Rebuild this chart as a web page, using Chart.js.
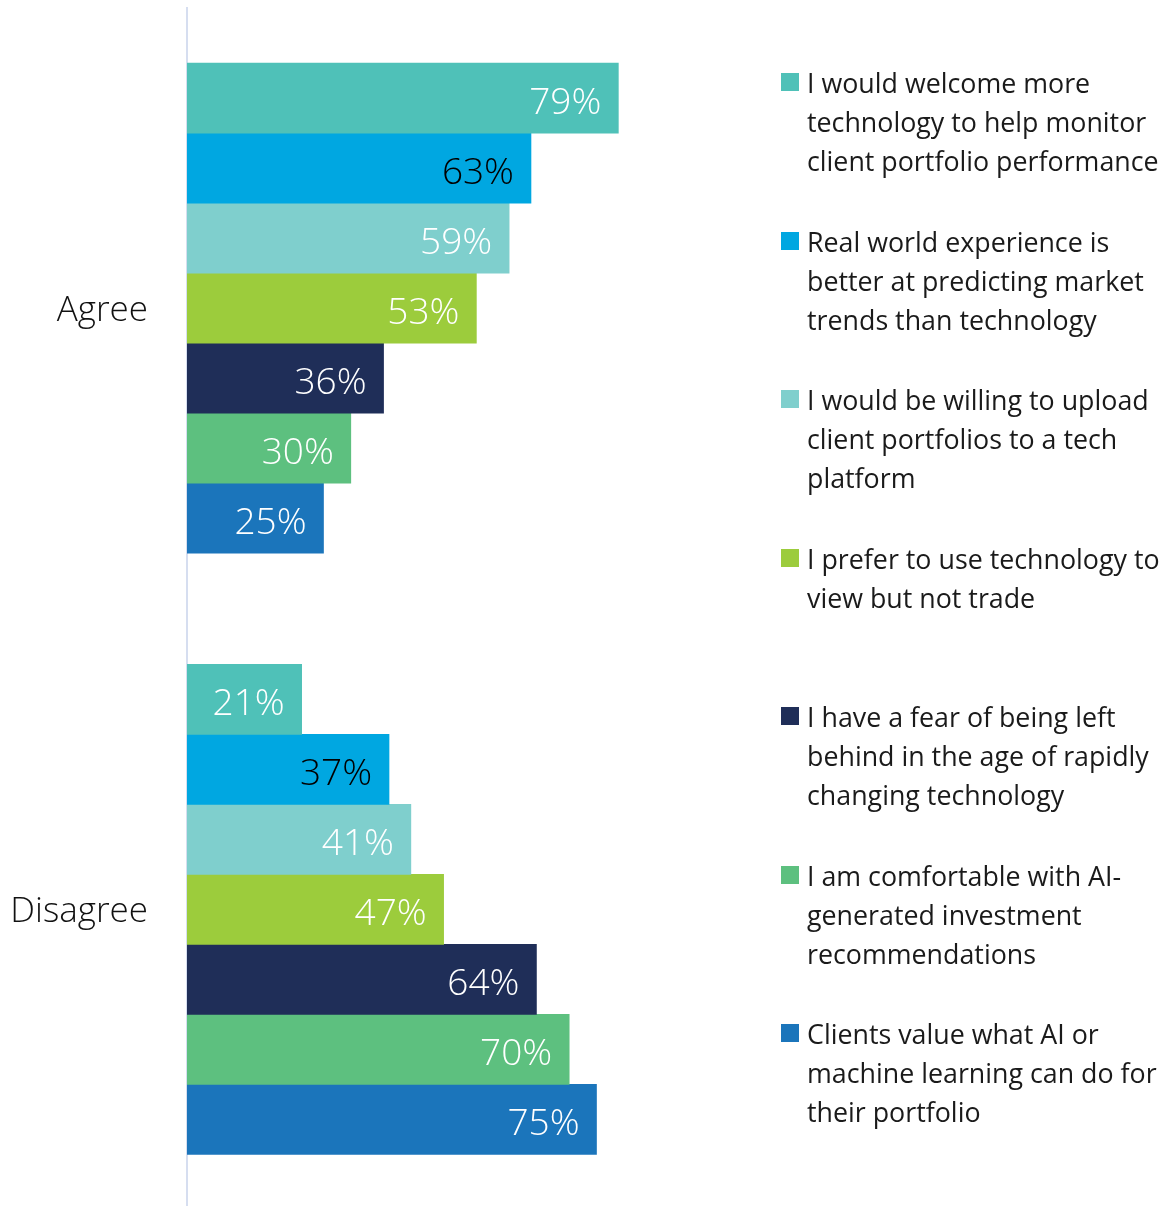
<!DOCTYPE html>
<html>
<head>
<meta charset="utf-8">
<script src="https://cdn.jsdelivr.net/npm/chart.js@4/dist/chart.umd.min.js"></script>
<style>
  body { margin: 0; background: #fff; overflow: hidden; }
  #wrap { position: relative; width: 1173px; height: 1211px; }
  #legend { position: absolute; left: 781px; top: 0; font-family: 'Open Sans', sans-serif; font-weight: 400; font-size: 26.8px; color: #1a1a1a; }
  .item { position: absolute; left: 0; width: 392px; line-height: 39px; padding-left: 26px; white-space: nowrap; }
  .box { position: absolute; left: 0; top: 10px; width: 18px; height: 18px; }
</style>
</head>
<body>
<div id="wrap">
  <canvas id="grafico" width="1173" height="1211"></canvas>
  <div id="legend"></div>
</div>
<script>
// respuestas
const categorias = ['Agree', 'Disagree'];

const enunciados = [
  ['I would welcome more', 'technology to help monitor', 'client portfolio performance'],
  ['Real world experience is', 'better at predicting market', 'trends than technology'],
  ['I would be willing to upload', 'client portfolios to a tech', 'platform'],
  ['I prefer to use technology to', 'view but not trade'],
  ['I have a fear of being left', 'behind in the age of rapidly', 'changing technology'],
  ['I am comfortable with AI-', 'generated investment', 'recommendations'],
  ['Clients value what AI or', 'machine learning can do for', 'their portfolio']
];

const valoresAgree    = [79, 63, 59, 53, 36, 30, 25];
const valoresDisagree = [21, 37, 41, 47, 64, 70, 75];

const colores = ['#4fc1b8', '#00a7e1', '#7fcfcd', '#9ccc3c', '#1f2e58', '#5dc07f', '#1b75bb'];
const colorTexto = ['#fff', '#000', '#fff', '#fff', '#fff', '#fff', '#fff'];

const datasets = enunciados.map((lineas, i) => ({
  label: lineas.join(' '),
  data: [valoresAgree[i], valoresDisagree[i]],
  backgroundColor: colores[i],
  barThickness: 70
}));

// porcentajes dentro de cada barra
const etiquetasBarras = {
  id: 'etiquetasBarras',
  afterDatasetsDraw(chart) {
    const ctx = chart.ctx;
    ctx.save();
    ctx.font = '300 37px "Open Sans", sans-serif';
    ctx.textAlign = 'right';
    ctx.textBaseline = 'alphabetic';
    chart.data.datasets.forEach((ds, i) => {
      chart.getDatasetMeta(i).data.forEach((bar, j) => {
        ctx.fillStyle = colorTexto[i];
        ctx.fillText(ds.data[j] + '%', bar.x - 17, bar.y + 16);
      });
    });
    ctx.restore();
  }
};

const chart = new Chart(document.getElementById('grafico'), {
  type: 'bar',
  data: { labels: categorias, datasets },
  options: {
    indexAxis: 'y',
    responsive: false,
    animation: false,
    layout: { padding: { top: 7.5, right: 440, bottom: 1, left: 0 } },
    plugins: {
      legend: { display: false },
      tooltip: { enabled: false }
    },
    scales: {
      x: { display: false, min: 0, max: 100 },
      y: {
        afterFit(scale) {
          scale.width = 187;
          scale.paddingTop = 0;
          scale.paddingBottom = 0;
        },
        grid: { display: false, drawTicks: false },
        border: { color: '#d6def0', width: 2 },
        ticks: {
          padding: 39,
          labelOffset: 3,
          color: '#111',
          font: { size: 35, family: 'Open Sans', weight: '300' }
        }
      }
    }
  },
  plugins: [etiquetasBarras]
});

// leyenda a la derecha
const legend = document.getElementById('legend');
legend.innerHTML = enunciados.map((lineas, i) => `
  <div class="item" style="top:${63 + i * 158.5}px">
    <span class="box" style="background:${colores[i]}"></span>
    ${lineas.join('<br>')}
  </div>`).join('');
</script>
</body>
</html>
